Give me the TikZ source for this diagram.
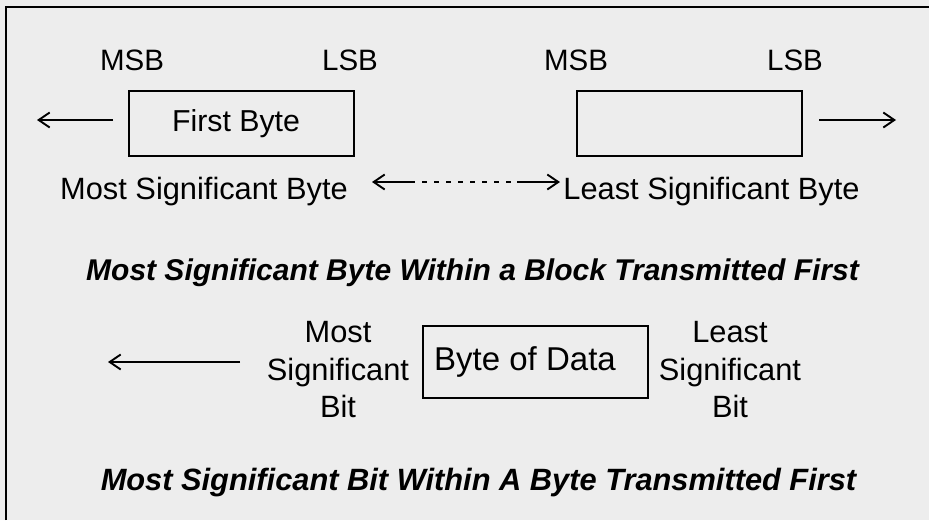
\documentclass[tikz,border=0pt]{standalone}
\usepackage{fontspec}
\setmainfont{Liberation Sans}
\usetikzlibrary{arrows.meta}
\begin{document}
\begin{tikzpicture}[x=1pt,y=-1pt,
  lbl/.style={font=\fontsize{30.8}{37.5}\selectfont, inner sep=0pt, anchor=base},
  endlbl/.style={font=\fontsize{29.5}{36}\selectfont, inner sep=0pt, anchor=base},
  multi/.style={font=\fontsize{30.8}{37.5}\selectfont, inner sep=0pt, align=center},
  ttl/.style={font=\fontsize{30}{36}\selectfont\bfseries\itshape, inner sep=0pt, anchor=base},
  bytebox/.style={draw, line width=1.6pt, minimum width=225pt, inner sep=0pt},
  tip/.style={line width=1.9pt, -{Straight Barb[length=11pt,width=15pt]}},
  dotline/.style={line width=1.9pt, dash pattern=on 5pt off 7pt},
]
\fill[black!7] (0,0) rectangle (929,520);
\useasboundingbox (0,0) rectangle (929,520);
\draw[line width=1.5pt] (6,520) -- (6,7) -- (929,7);

% top row labels
\node[endlbl] (msbL) at (132,70) {MSB};
\node[endlbl] (lsbL) at (350,70) {LSB};
\node[endlbl] (msbR) at (576,70) {MSB};
\node[endlbl] (lsbR) at (795,70) {LSB};

% byte boxes
\node[bytebox, minimum height=65pt, font=\fontsize{30.3}{36}\selectfont] (boxL) at (241.5,123.5) {First Byte\hspace*{11pt}};
\node[bytebox, minimum height=65pt] (boxR) at (689.5,123.5) {};

% outward arrows
\coordinate (aL1) at (113,120);
\coordinate (aL2) at (37,120);
\coordinate (aR1) at (819,120);
\coordinate (aR2) at (896,120);
\draw[tip] (aL1) -- (aL2);
\draw[tip] (aR1) -- (aR2);

% byte names
\node[lbl] (msbyte) at (204,199) {Most Significant Byte};
\node[lbl] (lsbyte) at (711.5,199) {Least Significant Byte};

% dashed double arrow
\coordinate (dL) at (372,182);
\coordinate (dL1) at (410,182);
\coordinate (dR1) at (517,182);
\coordinate (dR) at (560,182);
\draw[dotline] (dL1) -- (dR1);
\draw[tip] (dL1) -- (dL);
\draw[tip] (dR1) -- (dR);

% title 1
\node[ttl] (title1) at (472.5,280) {Most Significant Byte Within a Block Transmitted First};

% bottom row
\node[multi] (mostbit) at (338,370) {Most\\Significant\\Bit};
\node[bytebox, minimum height=72pt, font=\fontsize{33}{36}\selectfont] (boxB) at (535.5,362) {Byte of Data\hspace*{21pt}};
\node[multi] (leastbit) at (730,370) {Least\\Significant\\Bit};
\coordinate (bL1) at (240,362);
\coordinate (bL2) at (108,362);
\draw[tip] (bL1) -- (bL2);

% title 2
\node[ttl, font=\fontsize{30.8}{36}\selectfont\bfseries\itshape] (title2) at (478.5,490) {Most Significant Bit Within A Byte Transmitted First};
\end{tikzpicture}
\end{document}
